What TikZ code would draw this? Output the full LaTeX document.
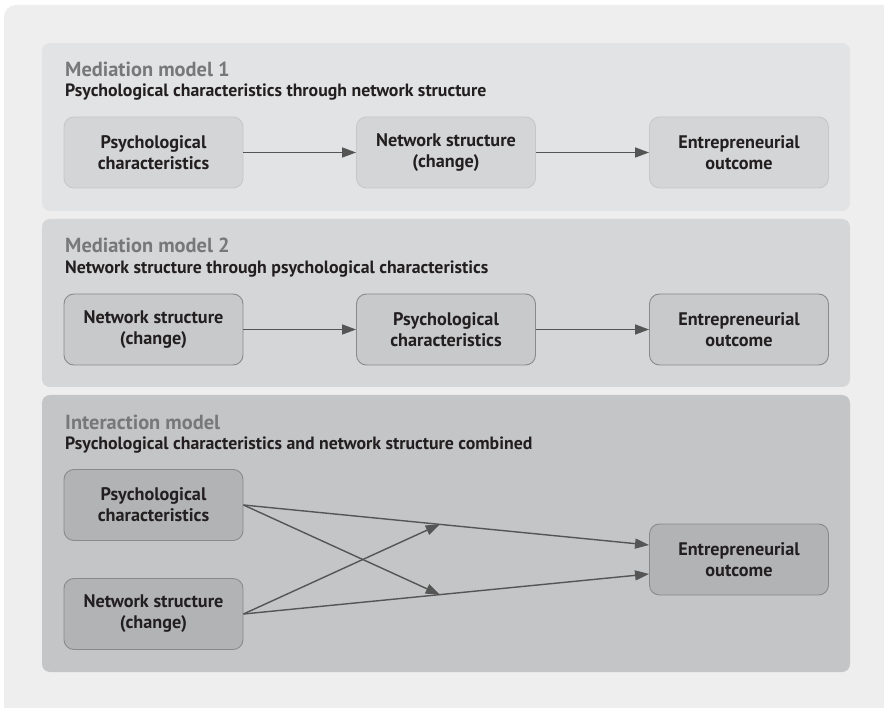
\documentclass[tikz,border=0pt]{standalone}
\usepackage{fontspec}
\setmainfont{PT Sans}
\usetikzlibrary{arrows.meta,calc}
\definecolor{outerbg}{HTML}{EEEEEE}
\definecolor{panelA}{HTML}{E2E3E4}
\definecolor{panelB}{HTML}{D5D6D7}
\definecolor{panelC}{HTML}{C4C5C6}
\definecolor{boxA}{HTML}{D4D5D6}
\definecolor{boxB}{HTML}{C8C9CA}
\definecolor{boxC}{HTML}{B2B3B5}
\definecolor{edgeA}{HTML}{C6C7C8}
\definecolor{edgeB}{HTML}{8A8A8A}
\definecolor{titlegray}{HTML}{77787A}
\definecolor{inkdark}{HTML}{231F20}
\definecolor{arrowgray}{HTML}{555555}
\tikzset{
  panel/.style={rounded corners=8pt, draw=none},
  model/.style={draw=#1, line width=0.9pt, rounded corners=10pt, minimum width=179pt, minimum height=71pt,
    align=center, inner sep=0pt, text=inkdark, font=\bfseries\fontsize{18.2}{21}\selectfont},
  modeltitle/.style={anchor=base west, inner sep=0pt, text=titlegray, font=\bfseries\fontsize{20.4}{24}\selectfont},
  modelsub/.style={anchor=base west, inner sep=0pt, text=inkdark, font=\bfseries\fontsize{17.8}{20}\selectfont},
  link/.style={draw=arrowgray, line width=1.4pt, -{Triangle[length=14pt,width=10pt]}},
}
\begin{document}
\begin{tikzpicture}[x=1pt,y=-1pt]
\useasboundingbox (0,0) rectangle (884,708);
\fill[white] (0,0) rectangle (884,708);
% outer frame
\fill[outerbg, rounded corners=12pt] (4,5) rectangle (900,730);
% panels
\fill[panel, panelA] (42,43) rectangle (850,211);
\fill[panel, panelB] (42,219) rectangle (850,387);
\fill[panel, panelC] (42,395) rectangle (850,672);

% panel 1: mediation via network structure
\node[modeltitle] (t1) at (65,77) {Mediation model 1};
\node[modelsub] (s1) at (65,97) {Psychological characteristics through network structure};
\node[model=edgeA, fill=boxA] (p1) at (153.5,152.5) {Psychological\\characteristics};
\node[model=edgeA, fill=boxA] (n1) at (446,152.5) {Network structure\\(change)};
\node[model=edgeA, fill=boxA] (e1) at (739,152.5) {Entrepreneurial\\outcome};
\draw[link] (p1) -- (n1);
\draw[link] (n1) -- (e1);

% panel 2: mediation via psychological characteristics
\node[modeltitle] (t2) at (65,253) {Mediation model 2};
\node[modelsub] (s2) at (65,274) {Network structure through psychological characteristics};
\node[model=edgeB, fill=boxB] (n2) at (153.5,329.5) {Network structure\\(change)};
\node[model=edgeB, fill=boxB] (p2) at (446,329.5) {Psychological\\characteristics};
\node[model=edgeB, fill=boxB] (e2) at (739,329.5) {Entrepreneurial\\outcome};
\draw[link] (n2) -- (p2);
\draw[link] (p2) -- (e2);

% panel 3: interaction
\node[modeltitle] (t3) at (65,430) {Interaction model};
\node[modelsub] (s3) at (65,450) {Psychological characteristics and network structure combined};
\node[model=edgeB, fill=boxC] (p3) at (153.5,505) {Psychological\\characteristics};
\node[model=edgeB, fill=boxC] (n3) at (153.5,614) {Network structure\\(change)};
\node[model=edgeB, fill=boxC] (e3) at (739,559.5) {Entrepreneurial\\outcome};
\coordinate (eUp) at ($(e3.west)+(0,-14.5)$);
\coordinate (eDn) at ($(e3.west)+(0,14.5)$);
\coordinate (mUp) at ($(p3.east)!0.484!(eUp)$);
\coordinate (mDn) at ($(n3.east)!0.484!(eDn)$);
\draw[link] (p3.east) -- (eUp);
\draw[link] (n3.east) -- (eDn);
\draw[link] (p3.east) -- (mDn);
\draw[link] (n3.east) -- (mUp);
\end{tikzpicture}
\end{document}
